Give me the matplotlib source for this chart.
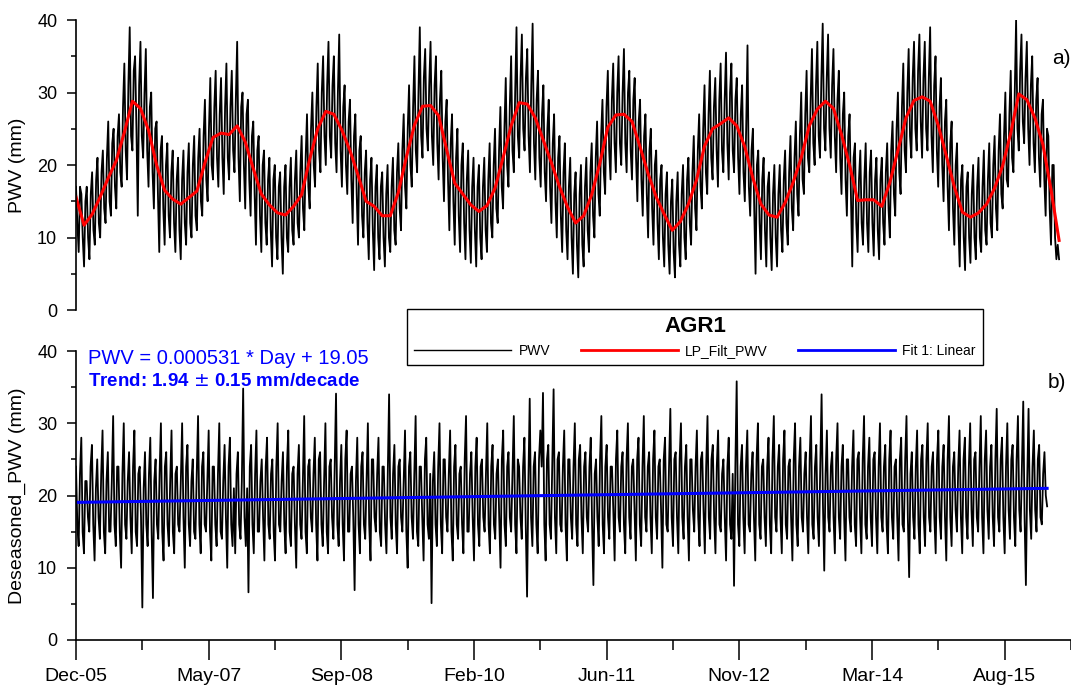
import numpy as np
import matplotlib
matplotlib.use("Agg")
import matplotlib.pyplot as plt
from matplotlib.lines import Line2D

plt.rcParams['font.family'] = ['Liberation Sans', 'DejaVu Sans']

# daily PWV read every 10 days (Day 0 = Dec-05), plus the in-between readings (days 5, 15, ...)
pwv = [17, 8, 16, 6, 17, 7, 19, 9, 21, 10, 22, 12,
       26, 13, 25, 14, 27, 17, 34, 18, 39, 22, 35, 13,
       37, 21, 36, 17, 30, 14, 26, 8, 24, 9, 23, 10,
       22, 8, 21, 7, 22, 9, 23, 10, 24, 11, 25, 13,
       29, 15, 32, 18, 33, 17, 32, 16, 34, 18, 33, 19,
       37, 15, 30, 14, 29, 13, 26, 9, 24, 8, 22, 9,
       21, 6, 20, 7, 19, 5, 20, 8, 21, 9, 22, 10,
       24, 11, 27, 14, 30, 17, 34, 19, 35, 20, 37, 21,
       35, 19, 38, 17, 31, 16, 29, 12, 27, 9, 24, 10,
       22, 7, 21, 5.5, 20, 7, 19, 6, 20, 8, 21, 9,
       23, 11, 27, 14, 31, 17, 35, 19, 39, 21, 36, 22,
       37, 20, 35, 18, 33, 15, 29, 11, 27, 9, 25, 8,
       23, 7, 22, 6.5, 21, 6, 20, 7, 21, 8, 23, 10,
       25, 12, 28, 14, 32, 17, 35, 19, 39, 21, 38, 22,
       36, 19, 39.5, 18, 33, 17, 31, 15, 29, 12, 27, 10,
       24, 8, 23, 7, 21, 5, 19, 4.5, 20, 6, 21, 8,
       23, 10, 26, 13, 29, 16, 33, 18, 34, 19, 35, 20,
       36, 19, 33, 18, 32, 15, 29, 13, 27, 10, 25, 9,
       22, 7, 20, 6, 19, 5, 18, 4.5, 19, 6, 20, 7,
       21, 9, 24, 11, 27, 14, 31, 16, 33, 18, 32, 17,
       34, 19, 35.5, 18, 34, 19, 32, 16, 31, 15, 36.5, 13,
       25, 5, 22, 7, 21, 6, 19, 5.5, 20, 6, 20, 8,
       22, 9, 24, 11, 26, 13, 30, 16, 33, 19, 36, 20,
       37, 21, 39.5, 22, 38, 21, 36, 19, 33, 16, 30, 13,
       27, 6, 23, 8, 22, 9, 23, 8, 22, 7.5, 21, 7,
       21, 9, 23, 10, 26, 13, 30, 16, 34, 19, 36, 21,
       37, 22, 38, 21, 37, 22, 39, 19, 35, 17, 32, 15,
       29, 11, 26, 9, 23, 6, 20, 5.5, 19, 6.5, 20, 7,
       21, 8, 22, 9, 23, 10, 24, 11, 27, 14, 30, 17,
       33, 19, 40, 22, 38, 23, 37, 20, 35, 19, 32, 17,
       29, 13, 24, 9, 20, 7, 7]

pwv_mid = [12, 17, 10, 15, 10, 16, 11, 18, 12, 19, 14, 21,
           15, 23, 17, 24, 19, 28, 22, 31, 24, 33, 25, 31,
           24, 30, 22, 28, 19, 25, 16, 22, 14, 20, 13, 19,
           12, 18, 11, 18, 12, 19, 12, 20, 13, 21, 15, 24,
           18, 25, 20, 28, 21, 27, 21, 28, 21, 28, 22, 29,
           21, 28, 20, 27, 18, 24, 16, 22, 13, 20, 12, 18,
           11, 18, 10, 17, 10, 17, 10, 17, 11, 18, 12, 19,
           14, 21, 17, 25, 20, 28, 22, 30, 24, 31, 24, 31,
           23, 30, 22, 28, 20, 26, 18, 24, 16, 22, 13, 19,
           12, 18, 11, 17, 10, 17, 10, 16, 10, 17, 11, 19,
           14, 22, 17, 25, 20, 28, 22, 30, 24, 32, 25, 31,
           24, 31, 23, 29, 21, 26, 18, 23, 15, 21, 13, 20,
           12, 18, 11, 17, 11, 17, 10, 17, 11, 18, 12, 20,
           14, 22, 17, 25, 20, 28, 22, 30, 24, 32, 25, 32,
           24, 31, 23, 29, 21, 27, 19, 25, 17, 23, 15, 21,
           13, 19, 11, 17, 10, 16, 9, 16, 9, 17, 11, 19,
           13, 21, 16, 24, 19, 28, 22, 29, 23, 30, 23, 30,
           23, 30, 22, 29, 21, 26, 18, 24, 16, 22, 14, 20,
           12, 18, 10, 16, 9, 15, 8, 15, 9, 16, 10, 18,
           12, 19, 14, 22, 17, 25, 19, 27, 21, 28, 22, 29,
           22, 29, 23, 30, 22, 29, 21, 27, 19, 25, 17, 22,
           14, 20, 12, 18, 11, 17, 10, 16, 10, 16, 11, 18,
           12, 19, 14, 21, 16, 24, 18, 27, 21, 29, 23, 31,
           24, 32, 25, 32, 25, 31, 24, 29, 21, 27, 18, 24,
           16, 21, 12, 18, 12, 18, 12, 19, 12, 18, 11, 18,
           12, 19, 14, 22, 16, 25, 19, 28, 22, 30, 24, 32,
           25, 33, 26, 32, 25, 32, 24, 31, 22, 28, 20, 26,
           17, 23, 14, 20, 12, 18, 10, 17, 10, 16, 10, 17,
           10, 17, 11, 18, 12, 20, 14, 22, 16, 24, 18, 27,
           21, 30, 25, 33, 26, 32, 25, 31, 23, 29, 21, 27,
           18, 25, 14, 20, 10, 9]

# low-pass filtered PWV, every 30 days
lp_pwv = [15.6, 11.7, 13.2, 15.6, 18.2, 20.6, 24.5, 28.8, 27.8, 24.8,
          20.0, 16.5, 15.3, 14.6, 15.5, 16.4, 20.3, 23.8, 24.4, 24.2,
          25.4, 23.2, 19.5, 16.0, 14.5, 13.4, 13.1, 14.3, 15.9, 20.8,
          25.0, 27.4, 27.0, 24.8, 22.0, 18.6, 15.0, 14.3, 13.0, 13.0,
          16.2, 21.1, 25.5, 28.1, 28.2, 26.8, 22.1, 17.5, 16.0, 14.5,
          13.6, 14.4, 16.8, 21.0, 25.4, 28.6, 28.4, 26.5, 23.4, 20.3,
          17.0, 14.2, 12.0, 13.0, 15.9, 20.2, 25.2, 26.9, 27.0, 26.0,
          22.5, 18.8, 15.6, 13.2, 11.0, 12.2, 14.6, 17.9, 22.6, 25.0,
          25.7, 26.5, 25.4, 22.5, 18.2, 14.6, 13.1, 12.8, 14.8, 17.6,
          21.0, 25.4, 27.7, 28.8, 27.8, 24.2, 20.0, 15.1, 15.2, 15.2,
          14.3, 17.6, 22.0, 26.5, 28.9, 29.4, 28.8, 25.5, 21.3, 17.0,
          13.5, 12.8, 13.4, 14.6, 16.8, 19.9, 24.4, 29.8, 29.0, 26.5,
          22.8, 16.6, 9.6]

# deseasoned PWV, every 10 days, plus in-between readings
deseasoned = [24, 13, 28, 12, 22, 15, 27, 11, 25, 14, 29, 12,
              26, 15, 31, 13, 24, 10, 30, 14, 26, 12, 29, 13,
              24, 4.5, 26, 13, 28, 5.8, 25, 14, 30, 11, 26, 13,
              29, 12, 24, 15, 30, 10, 27, 13, 25, 14, 31, 12,
              26, 15, 29, 11, 24, 13, 30, 14, 27, 10, 28, 13,
              12, 26, 14, 34.8, 13, 6.6, 27, 12, 29, 15, 25, 11,
              28, 14, 25, 11, 30, 15, 26, 12, 29, 13, 24, 10,
              27, 14, 31, 12, 25, 15, 28, 11, 26, 13, 30, 12,
              25, 14, 34.1, 13, 27, 11, 29, 15, 24, 6.9, 28, 12,
              26, 14, 30, 11, 25, 15, 28, 13, 24, 12, 34, 14,
              27, 12, 25, 15, 29, 10, 26, 14, 31, 13, 24, 11,
              28, 14, 5.1, 26, 13, 30, 12, 25, 15, 29, 11, 27,
              14, 24, 12, 31, 15, 26, 11, 28, 13, 25, 15, 30,
              12, 27, 14, 25, 10, 29, 13, 26, 15, 31, 12, 24,
              14, 28, 6.0, 33.4, 13, 26, 12, 29, 34.2, 11, 27, 14,
              34.7, 12, 26, 15, 29, 11, 25, 14, 30, 13, 27, 12,
              26, 15, 28, 7.6, 25, 13, 31, 12, 27, 14, 24, 11,
              29, 15, 26, 12, 30, 14, 25, 11, 28, 13, 31, 15,
              26, 12, 29, 14, 25, 10, 28, 15, 32, 13, 26, 12,
              30, 14, 27, 11, 25, 15, 29, 13, 26, 12, 31, 14,
              27, 12, 29, 15, 25, 11, 28, 14, 7.5, 35.8, 13, 27,
              12, 29, 15, 26, 11, 30, 14, 25, 13, 28, 12, 31,
              15, 27, 12, 29, 14, 25, 11, 30, 13, 28, 15, 26,
              12, 31, 14, 27, 13, 34, 9.6, 29, 15, 26, 12, 30,
              14, 27, 11, 25, 15, 29, 13, 26, 12, 31, 14, 28,
              13, 26, 12, 30, 15, 27, 12, 29, 14, 25, 11, 28,
              15, 31, 8.7, 26, 14, 29, 12, 27, 13, 30, 15, 26,
              12, 29, 14, 27, 11, 31, 13, 26, 15, 29, 12, 28,
              14, 30, 13, 26, 15, 31, 12, 29, 14, 27, 13, 32,
              15, 28, 12, 30, 14, 27, 13, 31, 15, 33, 7.6, 32,
              14, 29, 15, 27, 16, 26, 18.5]

deseasoned_mid = [16, 23, 15, 22, 17, 24, 16, 21, 17, 23, 15, 22,
                  15, 22, 16, 24, 15, 23, 16, 22, 17, 24, 15, 23,
                  17, 21, 16, 23, 15, 22, 16, 23, 15, 24, 16, 22,
                  15, 23, 16, 22, 17, 24, 16, 22, 15, 23, 16, 24,
                  16, 22, 15, 24, 16, 23, 15, 22, 17, 24, 16, 21,
                  23, 16, 22, 17, 21, 24, 16, 23, 15, 22, 17, 24,
                  16, 23, 15, 24, 16, 22, 16, 24, 15, 23, 16, 23,
                  16, 22, 15, 24, 17, 23, 16, 25, 16, 22, 15, 24,
                  17, 24, 16, 22, 16, 25, 15, 23, 17, 22, 16, 24,
                  16, 22, 16, 25, 17, 23, 15, 24, 16, 23, 17, 23,
                  16, 24, 17, 22, 15, 24, 17, 23, 15, 24, 17, 25,
                  16, 23, 22, 16, 24, 16, 25, 17, 23, 15, 24, 16,
                  23, 16, 25, 15, 23, 17, 24, 16, 24, 17, 23, 16,
                  24, 16, 23, 17, 25, 16, 24, 17, 23, 16, 25, 17,
                  24, 16, 22, 17, 24, 16, 25, 24, 16, 25, 16, 24,
                  17, 25, 16, 24, 16, 25, 17, 24, 16, 25, 17, 24,
                  17, 24, 16, 23, 17, 25, 16, 24, 17, 24, 18, 25,
                  17, 24, 16, 25, 17, 24, 18, 25, 16, 24, 17, 24,
                  17, 25, 17, 24, 18, 25, 16, 24, 17, 25, 17, 25,
                  17, 24, 17, 25, 18, 24, 17, 25, 18, 24, 17, 25,
                  17, 24, 16, 23, 17, 24, 16, 23, 24, 16, 24, 17,
                  24, 16, 23, 17, 25, 16, 24, 17, 24, 16, 25, 17,
                  24, 17, 25, 16, 24, 17, 25, 16, 24, 17, 23, 17,
                  25, 16, 24, 17, 24, 19, 23, 17, 24, 17, 25, 17,
                  24, 17, 25, 17, 24, 16, 25, 17, 25, 16, 24, 17,
                  25, 17, 24, 17, 24, 16, 25, 17, 24, 17, 25, 16,
                  25, 17, 23, 17, 24, 16, 25, 17, 25, 17, 24, 17,
                  25, 17, 24, 17, 25, 17, 24, 18, 24, 17, 25, 17,
                  24, 18, 25, 17, 24, 17, 25, 18, 24, 17, 25, 17,
                  25, 17, 24, 18, 25, 17, 25, 18, 24, 17, 22, 18,
                  24, 18, 25, 17, 23, 20]

# linear fit: PWV = 0.000531 * Day + 19.05
fit_days = [0, 3660]
fit_vals = [19.05, 20.99]

tick_days = [0, 500, 1000, 1500, 2000, 2500, 3000, 3500]
tick_labels = ['Dec-05', 'May-07', 'Sep-08', 'Feb-10', 'Jun-11', 'Nov-12', 'Mar-14', 'Aug-15']


def interleave(main, mid):
    out = []
    for i, v in enumerate(main):
        out.append(v)
        if i < len(mid):
            out.append(mid[i])
    return out


pwv_all = interleave(pwv, pwv_mid)
des_all = interleave(deseasoned, deseasoned_mid)
pwv_days = np.arange(len(pwv_all)) * 5
des_days = np.arange(len(des_all)) * 5
lp_days = np.arange(len(lp_pwv)) * 30

W, H = 1071, 697
fig = plt.figure(figsize=(W / 100, H / 100), dpi=100)
left = 76 / W
ax1 = fig.add_axes([left, (H - 310) / H, 1 - left, 290 / H])
ax2 = fig.add_axes([left, (H - 640) / H, 1 - left, 289 / H])

xmax = 995 / 0.2686

ax1.plot(pwv_days, pwv_all, color='black', lw=1.3)
ax1.plot(lp_days, lp_pwv, color='#ff0000', lw=2.2)
ax2.plot(des_days, des_all, color='black', lw=1.3)
ax2.plot(fit_days, fit_vals, color='#0000ff', lw=2.2)

for ax in (ax1, ax2):
    ax.set_xlim(0, xmax)
    ax.set_ylim(0, 40)
    ax.set_yticks([0, 10, 20, 30, 40])
    ax.set_yticks([5, 15, 25, 35], minor=True)
    ax.spines['top'].set_visible(False)
    ax.spines['right'].set_visible(False)
    ax.spines['left'].set_linewidth(1.2)
    ax.spines['bottom'].set_linewidth(1.2)
    ax.tick_params(axis='y', which='major', direction='out', length=6.5, width=1.1,
                   labelsize=13, pad=7)
    ax.tick_params(axis='y', which='minor', direction='out', length=3.6, width=1.1)
    ax.patch.set_visible(False)

ax1.spines['bottom'].set_visible(False)
ax1.set_xticks([])
ax1.set_ylabel('PWV (mm)', fontsize=14, labelpad=8)

ax2.set_xticks(tick_days)
ax2.set_xticklabels(tick_labels)
ax2.set_xticks([d + 250 for d in tick_days], minor=True)
ax2.tick_params(axis='x', which='major', direction='out', length=14.5, width=1.1,
                labelsize=14, pad=6)
ax2.tick_params(axis='x', which='minor', direction='out', length=7, width=1.1)
ax2.set_ylabel('Deseasoned_PWV (mm)', fontsize=14, labelpad=8)

fig.text(1061 / W, 1 - 58 / H, 'a)', fontsize=15, ha='center', va='center')
fig.text(1057 / W, 1 - 382 / H, 'b)', fontsize=15, ha='center', va='center')

fig.text(88 / W, 1 - 358 / H, 'PWV = 0.000531 * Day + 19.05', color='#0000ff',
         fontsize=14.5, ha='left', va='center')
fig.text(88 / W, 1 - 382 / H, 'Trend: 1.94 $\\pm$ 0.15 mm/decade', color='#0000ff',
         fontsize=13.5, fontweight='bold', ha='left', va='center')

handles = [Line2D([], [], color='black', lw=1.0),
           Line2D([], [], color='#ff0000', lw=2.0),
           Line2D([], [], color='#0000ff', lw=2.0)]
leg = fig.legend(handles, ['PWV', 'LP_Filt_PWV', 'Fit 1: Linear'], ncol=3,
                 loc='center', bbox_to_anchor=((404 + 986) / 2 / W, 1 - 337 / H),
                 title='AGR1', title_fontproperties={'weight': 'bold', 'size': 16},
                 fontsize=10, handlelength=7, handletextpad=0.5, columnspacing=2.2,
                 frameon=True, fancybox=False, edgecolor='black', framealpha=1,
                 borderpad=0.5)
leg.get_frame().set_linewidth(1.0)

fig.savefig('out.png', dpi=100)
